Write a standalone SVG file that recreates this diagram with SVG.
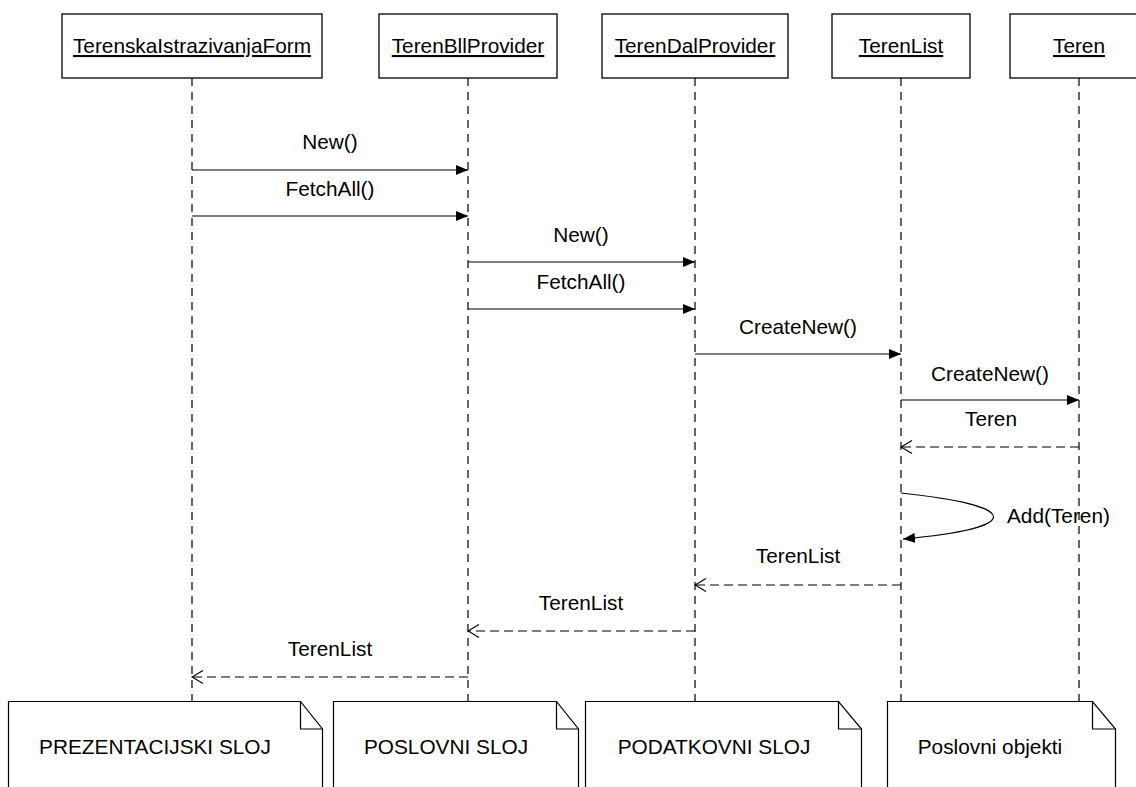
<svg xmlns="http://www.w3.org/2000/svg" width="1136" height="787" viewBox="0 0 1136 787">
<style>
text{font-family:"Liberation Sans",Arial,sans-serif;font-size:20.8px;fill:#000}
.hd{text-anchor:middle;text-decoration:underline}
.lb{text-anchor:middle}
.box{fill:#fff;stroke:#000;stroke-width:1.3}
.life{stroke:#000;stroke-width:1.2;stroke-dasharray:8 6;fill:none}
.msg{stroke:#000;stroke-width:1.2;fill:none;marker-end:url(#fill)}
.ret{stroke:#000;stroke-width:1.2;fill:none;stroke-dasharray:9 5;marker-end:url(#open)}
.note{fill:#fff;stroke:#000;stroke-width:1.2}
</style>
<defs>
<marker id="fill" viewBox="0 0 12 10" refX="12" refY="5" markerWidth="12" markerHeight="10" markerUnits="userSpaceOnUse" orient="auto">
<path d="M0,0 L12,5 L0,10 z" fill="#000"/>
</marker>
<marker id="open" viewBox="0 0 13 14" refX="12" refY="7" markerWidth="13" markerHeight="14" markerUnits="userSpaceOnUse" orient="auto">
<path d="M1,0.5 L12,7 L1,13.5" fill="none" stroke="#000" stroke-width="1.2"/>
</marker>
</defs>
<rect width="1136" height="787" fill="#fff"/>
<g id="lifelines">
<line class="life" x1="192" y1="78" x2="192" y2="701"/>
<line class="life" x1="468" y1="78" x2="468" y2="701"/>
<line class="life" x1="695" y1="78" x2="695" y2="701"/>
<line class="life" x1="901" y1="78" x2="901" y2="701"/>
<line class="life" x1="1079" y1="78" x2="1079" y2="701"/>
</g>
<g id="TerenskaIstrazivanjaForm">
<rect class="box" x="62" y="14" width="260" height="64"/>
<text class="hd" x="192" y="53">TerenskaIstrazivanjaForm</text>
</g>
<g id="TerenBllProvider">
<rect class="box" x="379" y="14" width="178" height="64"/>
<text class="hd" x="468" y="53">TerenBllProvider</text>
</g>
<g id="TerenDalProvider">
<rect class="box" x="602" y="14" width="186" height="64"/>
<text class="hd" x="695" y="53">TerenDalProvider</text>
</g>
<g id="TerenList">
<rect class="box" x="832" y="14" width="138" height="64"/>
<text class="hd" x="901" y="53">TerenList</text>
</g>
<g id="Teren">
<rect class="box" x="1010" y="14" width="140" height="64"/>
<text class="hd" x="1079" y="53">Teren</text>
</g>
<g id="connectors">
<line class="msg" x1="192" y1="170" x2="468" y2="170"/>
<text class="lb" x="330" y="149">New()</text>
<line class="msg" x1="192" y1="216" x2="468" y2="216"/>
<text class="lb" x="330" y="196">FetchAll()</text>
<line class="msg" x1="468" y1="262" x2="695" y2="262"/>
<text class="lb" x="581" y="242">New()</text>
<line class="msg" x1="468" y1="309" x2="695" y2="309"/>
<text class="lb" x="581" y="289">FetchAll()</text>
<line class="msg" x1="695" y1="354" x2="901" y2="354"/>
<text class="lb" x="798" y="334">CreateNew()</text>
<line class="msg" x1="901" y1="400" x2="1079" y2="400"/>
<text class="lb" x="990" y="381">CreateNew()</text>
<line class="ret" x1="1079" y1="447" x2="901" y2="447"/>
<text class="lb" x="991" y="426">Teren</text>
<path class="msg" d="M901,493 C1024,506 1024,528 903,539"/>
<text x="1007" y="523">Add(Teren)</text>
<line class="ret" x1="901" y1="585" x2="695" y2="585"/>
<text class="lb" x="798" y="563">TerenList</text>
<line class="ret" x1="695" y1="631" x2="468" y2="631"/>
<text class="lb" x="581" y="610">TerenList</text>
<line class="ret" x1="468" y1="677" x2="192" y2="677"/>
<text class="lb" x="330" y="656">TerenList</text>
</g>
<g id="note-prezentacijski">
<path class="note" d="M8.5,701.5 H300.5 L322.5,729 V800 H8.5 Z"/>
<path d="M300.5,701.5 V729 H322.5" fill="none" stroke="#000" stroke-width="1.2"/>
<text class="lb" x="155" y="754">PREZENTACIJSKI SLOJ</text>
</g>
<g id="note-poslovni">
<path class="note" d="M333.5,701.5 H556.5 L578.5,729 V800 H333.5 Z"/>
<path d="M556.5,701.5 V729 H578.5" fill="none" stroke="#000" stroke-width="1.2"/>
<text class="lb" x="446" y="754">POSLOVNI SLOJ</text>
</g>
<g id="note-podatkovni">
<path class="note" d="M585.5,701.5 H838.5 L861.5,729 V800 H585.5 Z"/>
<path d="M838.5,701.5 V729 H861.5" fill="none" stroke="#000" stroke-width="1.2"/>
<text class="lb" x="714" y="754">PODATKOVNI SLOJ</text>
</g>
<g id="note-objekti">
<path class="note" d="M887.5,701.5 H1092.5 L1115.5,729 V800 H887.5 Z"/>
<path d="M1092.5,701.5 V729 H1115.5" fill="none" stroke="#000" stroke-width="1.2"/>
<text class="lb" x="990" y="754">Poslovni objekti</text>
</g>
</svg>
